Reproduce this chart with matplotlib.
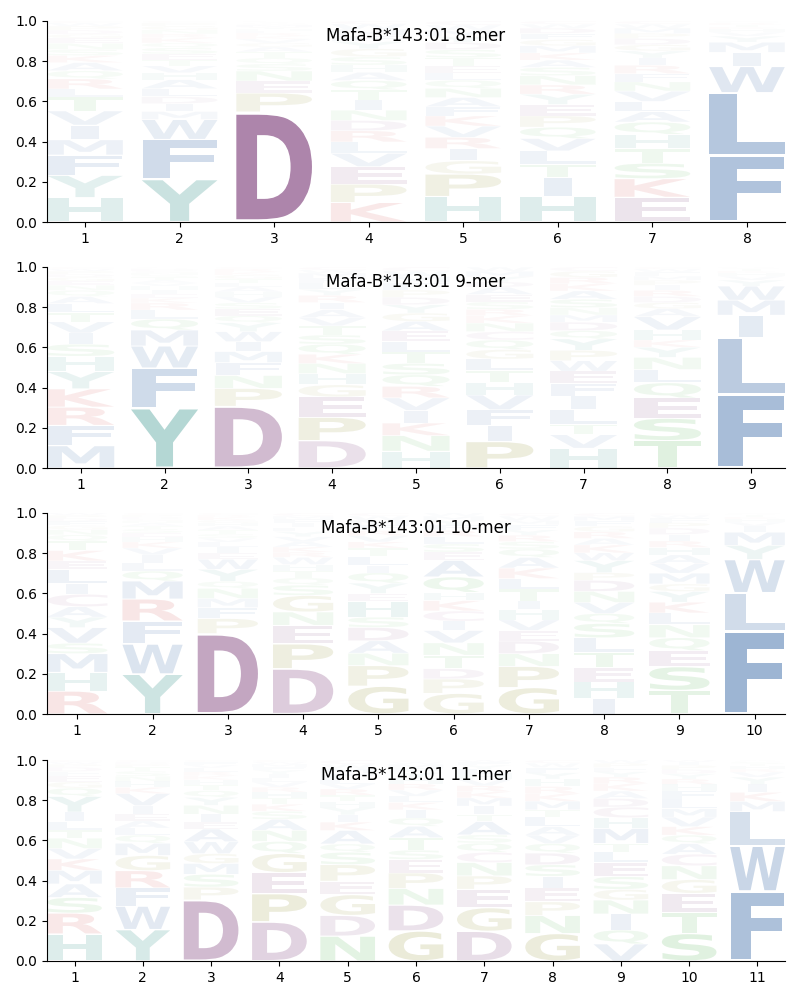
import matplotlib
matplotlib.use("Agg")
import matplotlib.pyplot as plt
from matplotlib.textpath import TextPath
from matplotlib.patches import PathPatch
from matplotlib.font_manager import FontProperties
from matplotlib.transforms import Affine2D

allele = "Mafa-B*143:01"
lengths = [8, 9, 10, 11]

# each position: letters from bottom to top, and their probabilities
mer8 = [
    ("HYFMIVTLRQAKSNEGDPWC", [.12, .11, .10, .075, .072, .07, .068, .04, .05, .04, .04, .035, .03, .03, .025, .02, .02, .02, .015, .01]),
    ("YFWMIDLAHVTESQKRNGPC", [.215, .20, .10, .04, .04, .035, .04, .045, .035, .035, .03, .03, .03, .025, .025, .02, .02, .02, .015, .01]),
    ("DPENSQTAGVKRLHYMFWIC", [.55, .095, .06, .05, .035, .03, .03, .025, .02, .02, .015, .015, .01, .01, .01, .01, .005, .005, .005, .005]),
    ("KPEVLRDNITQAHSGYFMWC", [.095, .09, .085, .065, .055, .055, .05, .05, .05, .05, .045, .04, .035, .04, .04, .035, .03, .03, .025, .015]),
    ("HPGIRVKFANQLETSDYMWC", [.125, .11, .065, .06, .055, .055, .05, .045, .045, .045, .04, .035, .035, .04, .04, .035, .03, .03, .025, .02]),
    ("HITLVQPEYRNSAKMGFDWC", [.125, .09, .065, .065, .06, .055, .055, .055, .05, .045, .045, .04, .035, .035, .035, .03, .03, .025, .02, .015]),
    ("EKSTHQALVNFRIYGDPMWC", [.12, .09, .075, .07, .07, .06, .05, .05, .05, .045, .04, .04, .035, .035, .03, .03, .025, .025, .02, .015]),
    ("FLWIMYVHKTRQS", [.33, .31, .13, .07, .05, .03, .02, .015, .01, .01, .01, .005, .005]),
]

mer9 = [
    ("MFRKYHSIVTLAQNEGDPWC", [.11, .10, .09, .09, .085, .075, .06, .055, .055, .045, .045, .035, .03, .025, .02, .02, .015, .015, .01, .01]),
    ("YFWMQLRKEIHVATSNGDPC", [.30, .20, .11, .08, .055, .045, .035, .025, .02, .02, .02, .015, .015, .015, .01, .01, .01, .01, .005, .005]),
    ("DPNFMIWYQESVHALTGKRC", [.31, .09, .065, .065, .055, .05, .05, .045, .035, .035, .03, .03, .025, .025, .02, .02, .02, .015, .015, .01]),
    ("DPEGHNKQSTVAIRYLFMWC", [.135, .115, .10, .06, .055, .05, .045, .05, .045, .045, .04, .04, .035, .035, .03, .03, .025, .025, .015, .015]),
    ("HNKIVRQSTLEAGYDPFMWC", [.08, .075, .06, .06, .06, .055, .055, .055, .055, .05, .05, .045, .04, .04, .035, .035, .035, .03, .025, .02]),
    ("PIFVHTLGQCNKRSEADYMW", [.125, .075, .075, .07, .06, .055, .055, .045, .045, .04, .04, .035, .03, .035, .035, .035, .025, .025, .025, .02]),
    ("HVTLIFEWPYQDMNSAKRGC", [.095, .065, .05, .07, .065, .06, .06, .05, .05, .055, .04, .04, .035, .035, .04, .04, .035, .03, .03, .02]),
    ("TSEQLNYKHVAGDRIPMFWC", [.135, .11, .10, .075, .065, .06, .05, .035, .05, .065, .04, .03, .03, .03, .025, .025, .02, .02, .015, .01]),
    ("FLIMWYVHKTSR", [.365, .285, .11, .075, .07, .03, .02, .015, .01, .01, .005, .005]),
]

mer10 = [
    ("RHMSVYACILEKTQNGFDPW", [.11, .09, .09, .05, .075, .05, .05, .06, .05, .07, .04, .05, .045, .03, .025, .02, .02, .015, .015, .01]),
    ("YWFRMQLIVKHESTANGDPC", [.20, .15, .115, .11, .09, .05, .04, .04, .035, .03, .025, .02, .02, .015, .015, .01, .01, .01, .01, .01]),
    ("DPFMNQYWEILVSTAHGKRC", [.40, .075, .055, .045, .05, .035, .06, .05, .03, .03, .025, .02, .02, .02, .02, .015, .015, .015, .01, .01]),
    ("DPENGSQTHWRKAVYLIFMC", [.22, .12, .09, .065, .08, .05, .035, .035, .03, .035, .025, .025, .025, .025, .025, .02, .02, .02, .015, .015]),
    ("GPNADSHEYQILTKVRFMWC", [.135, .10, .06, .06, .065, .05, .075, .04, .05, .05, .035, .045, .04, .03, .03, .025, .025, .025, .02, .015]),
    ("GPDTNVICKHQAESLRFYMW", [.10, .07, .05, .065, .06, .06, .045, .05, .05, .04, .075, .08, .04, .04, .035, .03, .025, .025, .02, .015]),
    ("GPNDEVHITLKAQSRYFMWC", [.125, .10, .06, .06, .05, .05, .05, .04, .055, .05, .05, .05, .04, .035, .03, .025, .025, .02, .02, .015]),
    ("IHETLSQVNDPYWKARGFMC", [.07, .075, .065, .07, .065, .065, .045, .05, .05, .05, .035, .055, .035, .035, .03, .03, .025, .025, .02, .015]),
    ("TSEQNLKYGMVAHRIDPFWC", [.11, .11, .075, .06, .06, .055, .05, .05, .035, .05, .045, .04, .035, .03, .03, .03, .025, .02, .015, .01]),
    ("FLWYMIVHKTRS", [.41, .19, .165, .07, .065, .03, .02, .015, .01, .01, .005, .005]),
]

mer11 = [
    ("HRSAMKVNTLIYQGEFDPWC", [.13, .10, .075, .065, .065, .055, .05, .05, .04, .04, .045, .075, .04, .03, .03, .02, .02, .015, .01, .01]),
    ("YWFRGMQLAEIVKHNSTPDC", [.155, .115, .09, .085, .075, .06, .04, .035, .035, .035, .04, .06, .03, .03, .025, .025, .02, .015, .01, .01]),
    ("DPSMGWAEINYQTHKRLVFC", [.31, .065, .065, .055, .05, .06, .065, .035, .04, .045, .04, .035, .03, .025, .02, .02, .02, .015, .015, .01]),
    ("DPEGQNASKTHRVLIYFMWC", [.195, .14, .105, .095, .06, .055, .055, .04, .035, .03, .03, .025, .025, .02, .02, .02, .015, .015, .01, .01]),
    ("NDGEPSQAKIYHTRVLFMWC", [.12, .10, .10, .065, .08, .06, .04, .065, .04, .035, .035, .03, .03, .03, .025, .025, .025, .025, .02, .02]),
    ("GDNPESTAQIKLVRHYFMWC", [.145, .125, .08, .075, .065, .045, .06, .055, .04, .04, .035, .03, .03, .03, .03, .025, .02, .02, .01, .01]),
    ("DGEPNCQSATIMKRVHLYFW", [.145, .115, .09, .065, .065, .05, .045, .04, .065, .035, .04, .04, .03, .03, .03, .025, .025, .02, .015, .01]),
    ("GNPEISDQVALTMKRHYFWC", [.13, .085, .065, .065, .055, .055, .055, .045, .04, .04, .045, .035, .04, .035, .035, .035, .03, .025, .02, .015]),
    ("VQINGSELTMHCDAKRYFPW", [.08, .065, .075, .065, .05, .06, .065, .05, .04, .07, .05, .05, .04, .035, .035, .03, .025, .02, .02, .015]),
    ("STEGNCAQKVMLFHRYDPIW", [.13, .10, .09, .065, .065, .055, .05, .04, .04, .045, .04, .045, .04, .03, .025, .025, .02, .02, .015, .01]),
    ("FWLMKIYVRHTSQA", [.345, .225, .17, .05, .045, .04, .035, .025, .015, .015, .01, .01, .005, .005]),
]

panels = [mer8, mer9, mer10, mer11]

groups = {
    "DE": "#6a2266",
    "C": "#8a3a7a",
    "AFILMVW": "#124c96",
    "HY": "#067a70",
    "KR": "#c81e1e",
    "GP": "#7a7a00",
    "NQST": "#22a022",
}
colors = {}
for letters, c in groups.items():
    for ch in letters:
        colors[ch] = c

font = FontProperties(family="DejaVu Sans", weight="bold")
paths = {}
for ch in "ACDEFGHIKLMNPQRSTVWY":
    paths[ch] = TextPath((0, 0), ch, size=1, prop=font)
e_width = paths["E"].get_extents().width


def draw_letter(ax, ch, x, floor, h, width=0.8, vpad=0.05):
    path = paths[ch]
    ext = path.get_extents()
    sx = min(width / ext.width, width / e_width)
    w = ext.width * sx
    sy = h * (1 - vpad) / ext.height
    tr = (Affine2D().translate(-ext.x0, -ext.y0).scale(sx, sy)
          .translate(x - w / 2, floor + h * vpad / 2))
    alpha = max(0.0, min(1.0, h))
    ax.add_patch(PathPatch(tr.transform_path(path), facecolor=colors[ch],
                           edgecolor="none", alpha=alpha))


fig = plt.figure(figsize=(8, 10), dpi=100)
bottoms = [0.778, 0.532, 0.286, 0.039]

for n, data, b in zip(lengths, panels, bottoms):
    ax = fig.add_axes([0.059, b, 0.922, 0.201])
    for i, (letters, probs) in enumerate(data):
        pos = i + 1
        total = sum(probs)
        floor = 0.0
        for ch, p in zip(letters, probs):
            h = p / total
            draw_letter(ax, ch, pos, floor, h)
            floor += h
    ax.set_xlim(0.6, n + 0.4)
    ax.set_ylim(0, 1)
    ax.set_xticks(range(1, n + 1))
    ax.set_yticks([0, 0.2, 0.4, 0.6, 0.8, 1.0])
    ax.spines["top"].set_visible(False)
    ax.spines["right"].set_visible(False)
    ax.text(0.5, 0.925, f"{allele} {n}-mer", transform=ax.transAxes,
            ha="center", va="center", fontsize=12)

fig.savefig("out.png", dpi=100)
